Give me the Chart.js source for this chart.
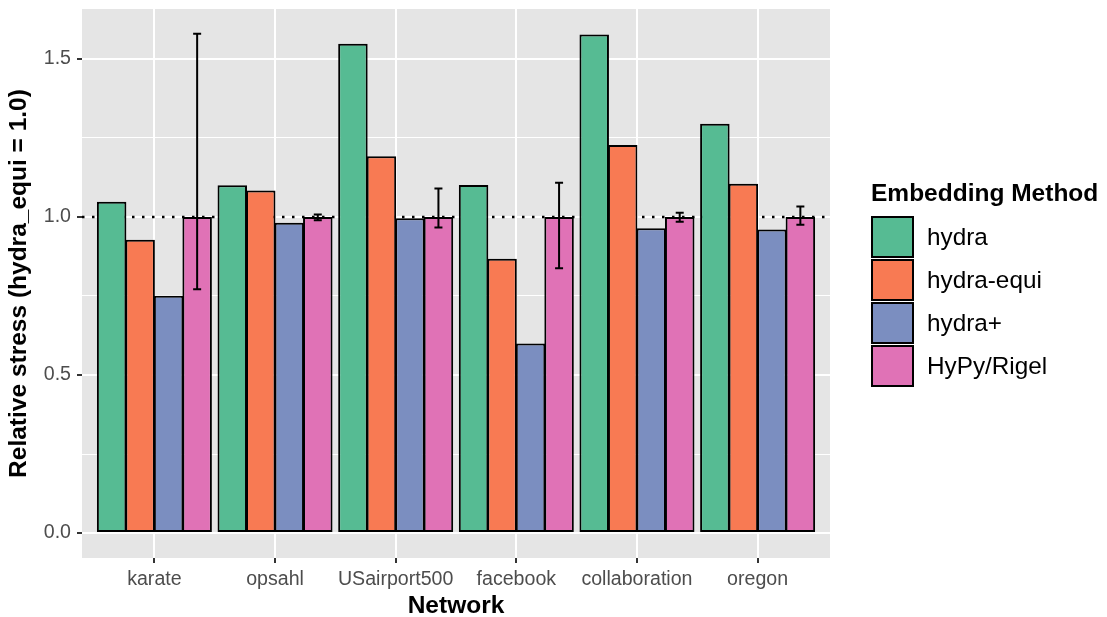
<!DOCTYPE html>
<html>
<head>
<meta charset="utf-8">
<script src="https://cdn.jsdelivr.net/npm/chart.js@4.4.0/dist/chart.umd.min.js"></script>
<style>
  body { margin: 0; background: #ffffff; }
  #wrap { width: 1107px; height: 617px; }
</style>
</head>
<body>
<div id="wrap"><canvas id="chart" width="1107" height="617"></canvas></div>
<script>
// data
const categories = ['karate', 'opsahl', 'USairport500', 'facebook', 'collaboration', 'oregon'];
const methods = ['hydra', 'hydra-equi', 'hydra+', 'HyPy/Rigel'];
const hydra = [1.048, 1.100, 1.548, 1.101, 1.577, 1.295];
const hydraEqui = [0.928, 1.084, 1.192, 0.868, 1.228, 1.105];
const hydraPlus = [0.751, 0.982, 0.996, 0.600, 0.964, 0.960];
const hypyRigel = [1.0, 1.0, 1.0, 1.0, 1.0, 1.0];
const hypyLow = [0.771, 0.990, 0.967, 0.838, 0.985, 0.975];
const hypyHigh = [1.580, 1.008, 1.090, 1.108, 1.013, 1.033];
const yMajorTicks = [0, 0.5, 1.0, 1.5];
const yMinorTicks = [0.25, 0.75, 1.25];
const refLine = 1.0;

const colors = ['#56BB93', '#F87A53', '#7B8EC0', '#E072B6'];
const seriesValues = [hydra, hydraEqui, hydraPlus, hypyRigel];

const textFont = "'Liberation Sans', Arial, Helvetica, sans-serif";

// grey panel behind everything
const panelBg = {
    id: 'panelBg',
    beforeDraw(chart) {
        const { ctx, chartArea: a } = chart;
        ctx.save();
        ctx.fillStyle = '#E5E5E5';
        ctx.fillRect(a.left, a.top, a.right - a.left, a.bottom - a.top);
        ctx.restore();
    }
};

// dotted reference line at 1.0, behind the bars
const refLinePlugin = {
    id: 'refLine',
    beforeDatasetsDraw(chart) {
        const { ctx, chartArea: a, scales } = chart;
        const y = scales.y.getPixelForValue(refLine);
        ctx.save();
        ctx.strokeStyle = '#000000';
        ctx.lineWidth = 2.5;
        ctx.setLineDash([2.5, 7.5]);
        ctx.beginPath();
        ctx.moveTo(a.left, y);
        ctx.lineTo(a.right, y);
        ctx.stroke();
        ctx.restore();
    }
};

// error bars on the HyPy/Rigel bars
const errorBars = {
    id: 'errorBars',
    afterDatasetsDraw(chart) {
        const { ctx, scales } = chart;
        const meta = chart.getDatasetMeta(3);
        ctx.save();
        ctx.strokeStyle = '#000000';
        ctx.lineWidth = 2;
        meta.data.forEach((bar, i) => {
            const x = bar.x;
            const yHi = scales.y.getPixelForValue(hypyHigh[i]);
            const yLo = scales.y.getPixelForValue(hypyLow[i]);
            ctx.beginPath();
            ctx.moveTo(x, yHi);
            ctx.lineTo(x, yLo);
            ctx.moveTo(x - 4, yHi);
            ctx.lineTo(x + 4, yHi);
            ctx.moveTo(x - 4, yLo);
            ctx.lineTo(x + 4, yLo);
            ctx.stroke();
        });
        ctx.restore();
    }
};

// ggplot-style legend on the right
const sideLegend = {
    id: 'sideLegend',
    afterDraw(chart) {
        const ctx = chart.ctx;
        ctx.save();
        ctx.fillStyle = '#000000';
        ctx.textBaseline = 'middle';
        ctx.textAlign = 'left';
        ctx.font = 'bold 24.5px ' + textFont;
        ctx.fillText('Embedding Method', 871, 194);
        methods.forEach((m, i) => {
            const top = 217 + i * 43;
            ctx.fillStyle = colors[i];
            ctx.fillRect(872, top, 41, 40);
            ctx.strokeStyle = '#000000';
            ctx.lineWidth = 2;
            ctx.strokeRect(872, top, 41, 40);
            ctx.fillStyle = '#000000';
            ctx.font = '24.3px ' + textFont;
            ctx.fillText(m, 927, top + 21);
        });
        ctx.restore();
    }
};

const datasets = methods.map((m, k) => ({
    label: m,
    data: seriesValues[k].map((v, i) => ({ x: i, y: v })),
    backgroundColor: colors[k],
    borderColor: '#000000',
    borderWidth: 2,
    borderSkipped: false,
    categoryPercentage: 0.945,
    barPercentage: 1.035
}));

const isMajor = v => yMajorTicks.some(t => Math.abs(t - v) < 1e-6);

// keep the panel where the layout puts it, no extra label padding
const noPad = scale => {
    scale.paddingTop = 0;
    scale.paddingBottom = 0;
    scale.paddingLeft = 0;
    scale.paddingRight = 0;
};

new Chart(document.getElementById('chart'), {
    type: 'bar',
    data: { datasets },
    options: {
        responsive: false,
        animation: false,
        devicePixelRatio: 1,
        layout: { padding: { top: 9, right: 277, left: 0, bottom: 0 } },
        plugins: {
            legend: { display: false },
            tooltip: { enabled: false }
        },
        scales: {
            x: {
                type: 'linear',
                min: -0.6,
                max: 5.6,
                offset: false,
                afterBuildTicks: scale => {
                    scale.ticks = categories.map((c, i) => ({ value: i }));
                },
                afterFit: scale => { scale.height = 59; noPad(scale); },
                border: { display: false },
                grid: {
                    offset: false,
                    color: '#FFFFFF',
                    lineWidth: 2,
                    tickLength: 5,
                    tickWidth: 2,
                    tickColor: '#333333'
                },
                ticks: {
                    autoSkip: false,
                    maxRotation: 0,
                    padding: 5,
                    color: '#4D4D4D',
                    font: { family: textFont, size: 19.6 },
                    callback: v => categories[v]
                },
                title: {
                    display: true,
                    text: 'Network',
                    color: '#000000',
                    font: { family: textFont, size: 24.5, weight: 'bold', lineHeight: 0.9 },
                    padding: { top: 0, bottom: 0 }
                }
            },
            y: {
                min: -0.079,
                max: 1.658,
                afterBuildTicks: scale => {
                    scale.ticks = yMajorTicks.concat(yMinorTicks).sort((a, b) => a - b).map(v => ({ value: v }));
                },
                afterFit: scale => { scale.width = 82; noPad(scale); },
                border: { display: false },
                grid: {
                    color: '#FFFFFF',
                    lineWidth: ctx => isMajor(ctx.tick.value) ? 2 : 1,
                    tickLength: 5,
                    tickWidth: 2,
                    tickColor: ctx => isMajor(ctx.tick.value) ? '#333333' : 'rgba(0,0,0,0)'
                },
                ticks: {
                    padding: 6,
                    color: '#4D4D4D',
                    font: { family: textFont, size: 19.6 },
                    callback: v => isMajor(v) ? v.toFixed(1) : ''
                },
                title: {
                    display: true,
                    text: 'Relative stress (hydra_equi = 1.0)',
                    color: '#000000',
                    font: { family: textFont, size: 24.5, weight: 'bold', lineHeight: 1.2 },
                    padding: { top: 5, bottom: 0 }
                }
            }
        }
    },
    plugins: [panelBg, refLinePlugin, errorBars, sideLegend]
});
</script>
</body>
</html>
